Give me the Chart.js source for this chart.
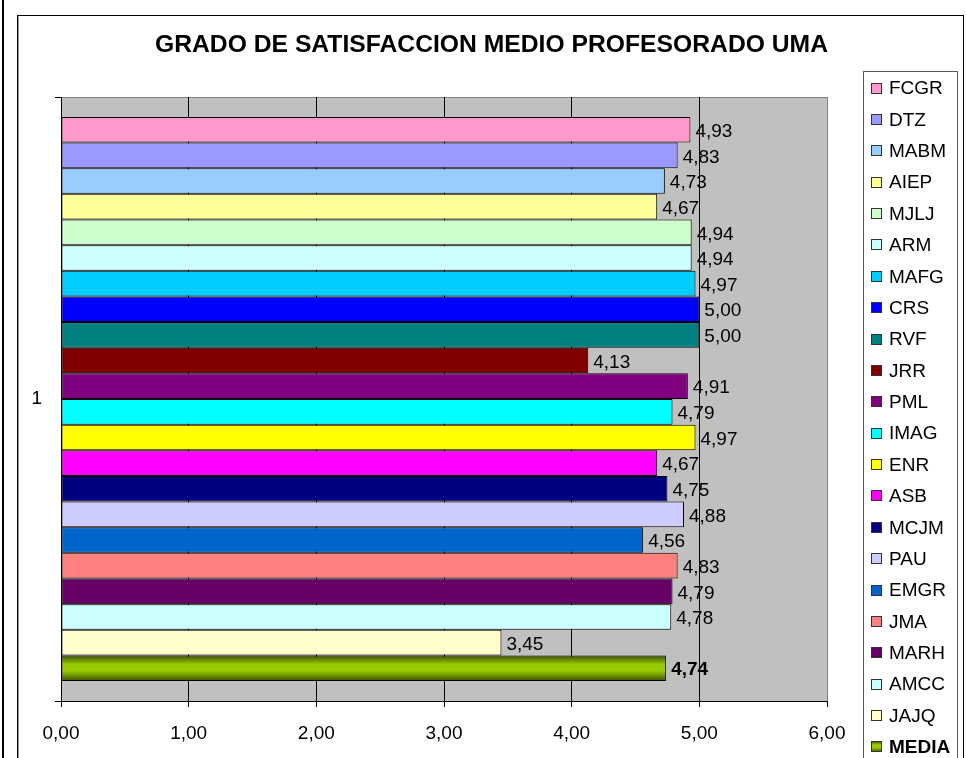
<!DOCTYPE html>
<html><head><meta charset="utf-8">
<script src="https://cdn.jsdelivr.net/npm/chart.js@4.4.0/dist/chart.umd.min.js"></script>
<style>html,body{margin:0;padding:0;background:#fff;overflow:hidden}#wrap{position:absolute;left:0;top:0;width:966px;height:758px}</style>
</head><body><div id="wrap"><canvas id="c" width="966" height="758"></canvas></div>
<script>
const categories = ['1'];
const seriesNames = ['FCGR','DTZ','MABM','AIEP','MJLJ','ARM','MAFG','CRS','RVF','JRR','PML','IMAG','ENR','ASB','MCJM','PAU','EMGR','JMA','MARH','AMCC','JAJQ','MEDIA'];
const seriesValues = [4.93,4.83,4.73,4.67,4.94,4.94,4.97,5.00,5.00,4.13,4.91,4.79,4.97,4.67,4.75,4.88,4.56,4.83,4.79,4.78,3.45,4.74];
const seriesColors = ['#FF99CC','#9999FF','#99CCFF','#FFFF99','#CCFFCC','#CCFFFF','#00CCFF','#0000FF','#008080','#800000','#800080','#00FFFF','#FFFF00','#FF00FF','#000080','#CCCCFF','#0066CC','#FF8080','#660066','#CCFFFF','#FFFFCC','#99CC00'];
const xTickLabels = ['0,00','1,00','2,00','3,00','4,00','5,00','6,00'];
const titleText = 'GRADO DE SATISFACCION MEDIO PROFESORADO UMA';

const FONT = "'Liberation Sans', Arial, sans-serif";
const CAT_PCT = 0.934;
const MEDIA_IDX = seriesNames.length - 1;

function mediaGradient(ctx2d, top, bottom) {
  const g = ctx2d.createLinearGradient(0, top, 0, bottom);
  g.addColorStop(0, '#3a4d00');
  g.addColorStop(0.35, '#99CC00');
  g.addColorStop(0.6, '#99CC00');
  g.addColorStop(1, '#3a4d00');
  return g;
}

const datasets = seriesNames.map((name, i) => ({
  label: name,
  data: [seriesValues[i]],
  backgroundColor: i === MEDIA_IDX ? function(c) {
    const ca = c.chart.chartArea;
    if (!ca) return seriesColors[i];
    const h = ca.bottom - ca.top;
    const band = h * CAT_PCT;
    const bottom = ca.top + (h - band) / 2 + band;
    const top = bottom - band / seriesNames.length;
    return mediaGradient(c.chart.ctx, top, bottom);
  } : seriesColors[i],
  borderColor: '#000000',
  borderWidth: 1,
  borderSkipped: false,
  barPercentage: 1,
  categoryPercentage: CAT_PCT
}));

const decorPlugin = {
  id: 'decor',
  beforeDraw(chart) {
    const ctx = chart.ctx, ca = chart.chartArea;
    ctx.save();
    ctx.fillStyle = '#fff';
    ctx.fillRect(0, 0, chart.width, chart.height);
    ctx.strokeStyle = '#000';
    ctx.lineWidth = 2;
    ctx.beginPath(); ctx.moveTo(3, 0); ctx.lineTo(3, chart.height); ctx.stroke();
    ctx.lineWidth = 1;
    ctx.strokeRect(17.5, 15.5, 946, chart.height + 20);
    ctx.strokeStyle = '#9a9a9a';
    ctx.beginPath(); ctx.moveTo(18.5, 16.5); ctx.lineTo(18.5, chart.height); ctx.stroke();
    ctx.fillStyle = '#C0C0C0';
    ctx.fillRect(ca.left, ca.top, ca.right - ca.left, ca.bottom - ca.top);
    ctx.strokeStyle = '#808080';
    ctx.beginPath(); ctx.moveTo(ca.left, ca.top + 0.5); ctx.lineTo(ca.right, ca.top + 0.5); ctx.stroke();
    ctx.fillStyle = '#000';
    ctx.font = 'bold 23px ' + FONT;
    ctx.textAlign = 'center';
    ctx.textBaseline = 'middle';
    const w = ctx.measureText(titleText).width;
    const sx = 673 / w;
    ctx.translate(491.5, 46);
    ctx.scale(sx, 1);
    ctx.fillText(titleText, 0, 0);
    ctx.restore();
  },
  afterDatasetsDraw(chart) {
    const ctx = chart.ctx;
    ctx.save();
    ctx.fillStyle = '#000';
    ctx.textAlign = 'left';
    ctx.textBaseline = 'middle';
    chart.data.datasets.forEach((ds, i) => {
      const el = chart.getDatasetMeta(i).data[0];
      ctx.font = (i === MEDIA_IDX ? 'bold ' : '') + '19px ' + FONT;
      ctx.fillText(ds.data[0].toFixed(2).replace('.', ','), el.x + 5, el.y + 2);
    });
    ctx.restore();
  },
  afterDraw(chart) {
    const ctx = chart.ctx;
    ctx.save();
    ctx.fillStyle = '#fff';
    ctx.fillRect(863, 71, 95, chart.height);
    ctx.strokeStyle = '#555';
    ctx.lineWidth = 1;
    ctx.strokeRect(863.5, 71.5, 94, chart.height + 20);
    const y0 = 88, step = 31.38;
    ctx.textAlign = 'left';
    ctx.textBaseline = 'middle';
    chart.data.datasets.forEach((ds, i) => {
      const y = y0 + i * step;
      const bx = 871, by = Math.round(y - 5.5);
      ctx.fillStyle = i === MEDIA_IDX ? mediaGradient(ctx, by, by + 11) : seriesColors[i];
      ctx.fillRect(bx, by, 11, 11);
      ctx.strokeStyle = '#333';
      ctx.strokeRect(bx + 0.5, by + 0.5, 10, 10);
      ctx.fillStyle = '#000';
      ctx.font = (i === MEDIA_IDX ? 'bold ' : '') + '19px ' + FONT;
      ctx.fillText(ds.label, 889, y + 1);
    });
    ctx.restore();
  }
};

new Chart(document.getElementById('c'), {
  type: 'bar',
  data: { labels: categories, datasets },
  options: {
    indexAxis: 'y',
    responsive: false,
    animation: false,
    devicePixelRatio: 1,
    layout: { padding: { left: 0, right: 139, top: 97, bottom: 0 } },
    plugins: { legend: { display: false }, title: { display: false }, tooltip: { enabled: false } },
    scales: {
      x: {
        min: 0, max: 6,
        ticks: {
          stepSize: 1,
          padding: 15,
          color: '#000',
          font: { size: 19, family: FONT },
          callback: (v, idx) => xTickLabels[idx]
        },
        grid: {
          color: (c) => c.tick && c.tick.value === 6 ? '#808080' : '#000',
          tickColor: '#000',
          tickLength: 6,
          lineWidth: 1
        },
        border: { display: true, color: '#000' },
        afterFit: (s) => { s.height = 57; }
      },
      y: {
        ticks: {
          padding: 13,
          color: '#000',
          font: { size: 19, family: FONT }
        },
        grid: {
          offset: true,
          drawOnChartArea: false,
          color: '#000',
          tickLength: 6
        },
        border: { display: true, color: '#000' },
        afterFit: (s) => { s.width = 61; }
      }
    }
  },
  plugins: [decorPlugin]
});
</script>
</body></html>
